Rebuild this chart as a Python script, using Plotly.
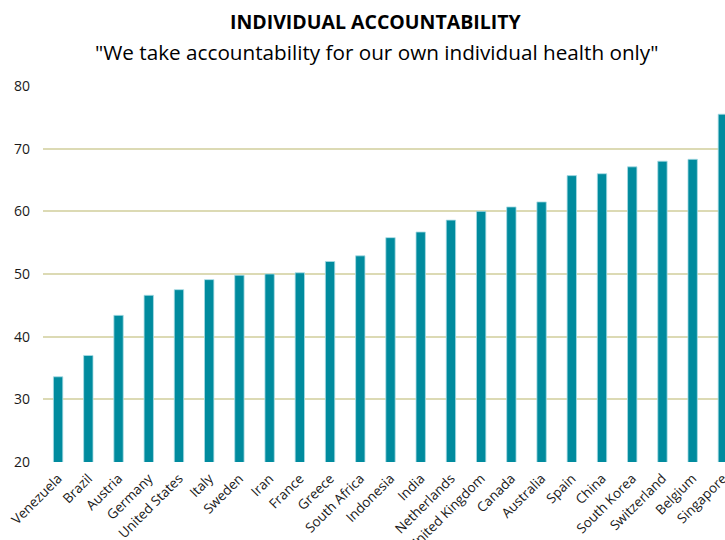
import plotly.graph_objects as go

countries = [
    "Venezuela", "Brazil", "Austria", "Germany", "United States", "Italy",
    "Sweden", "Iran", "France", "Greece", "South Africa", "Indonesia", "India",
    "Netherlands", "United Kingdom", "Canada", "Australia", "Spain", "China",
    "South Korea", "Switzerland", "Belgium", "Singapore",
]
scores = [
    33.6, 37.0, 43.4, 46.6, 47.5, 49.1,
    49.8, 50.0, 50.2, 52.0, 52.9, 55.8, 56.7,
    58.6, 60.0, 60.7, 61.5, 65.7, 66.0,
    67.1, 68.0, 68.3, 75.5,
]
y_ticks = [20, 30, 40, 50, 60, 70, 80]

title_text = "<b>INDIVIDUAL ACCOUNTABILITY</b>"
subtitle_text = "\"We take accountability for our own individual health only\""

BAR = "#008B9E"
GRID = "#DCDAB4"
FONT = "Open Sans"

W, H = 725, 540
M_L, M_R, M_T, M_B = 43, 0, 86, 78
plot_h = H - M_T - M_B
plot_w = W - M_L - M_R


def paper_x(px):
    return (px - M_L) / plot_w


def paper_y(py):
    return (H - M_B - py) / plot_h


fig = go.Figure(
    go.Bar(
        x=list(range(len(countries))),
        y=scores,
        marker=dict(color=BAR, line=dict(color="#A9DCE5", width=0.8)),
        width=0.31,
    )
)

fig.update_layout(
    width=W,
    height=H,
    margin=dict(l=M_L, r=M_R, t=M_T, b=M_B),
    paper_bgcolor="white",
    plot_bgcolor="white",
    showlegend=False,
    font=dict(family=FONT, color="#1a1a1a"),
    annotations=[
        dict(text=title_text, x=paper_x(376), y=paper_y(22), xref="paper", yref="paper",
             xanchor="center", yanchor="middle", showarrow=False,
             font=dict(family=FONT, size=19.5, color="#000000")),
        dict(text=subtitle_text, x=paper_x(376), y=paper_y(52), xref="paper", yref="paper",
             xanchor="center", yanchor="middle", showarrow=False,
             font=dict(family=FONT, size=20.7, color="#000000")),
    ],
)

fig.update_xaxes(
    range=[-0.5, 22.07],
    tickmode="array",
    tickvals=list(range(len(countries))),
    ticktext=countries,
    tickangle=-45,
    tickfont=dict(size=13.5, color="#1a1a1a"),
    ticklabeloverflow="allow",
    ticklabelstandoff=5,
    automargin=False,
    showgrid=False,
    showline=False,
    zeroline=False,
    ticks="",
)
fig.update_yaxes(
    range=[20, 80],
    tickmode="array",
    tickvals=y_ticks,
    tickfont=dict(size=14, color="#1a1a1a"),
    automargin=False,
    showgrid=True,
    gridcolor=GRID,
    gridwidth=1.5,
    zeroline=False,
    showline=False,
    ticks="",
    ticklabelstandoff=12,
)

fig.write_html("out.html")
